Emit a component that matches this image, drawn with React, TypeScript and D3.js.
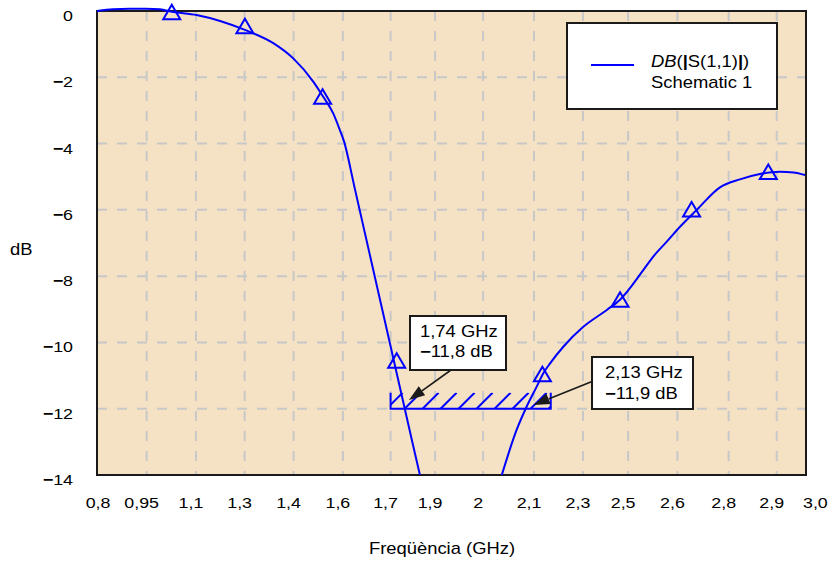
import React from 'react';
import * as d3 from 'd3';

// ---- data ----
const freqGHz = [
  0.8, 0.85, 0.899, 0.952, 0.995, 1.032, 1.109, 1.182, 1.259, 1.347, 1.409, 1.471, 1.502, 1.533, 1.552, 1.566, 1.6, 1.78, 1.802,
  1.93,
  2.056, 2.102, 2.133, 2.164, 2.185, 2.206, 2.247, 2.309, 2.382, 2.423, 2.495, 2.526, 2.568, 2.609, 2.661, 2.733, 2.795, 2.857, 2.919, 2.961, 2.997,
];
const s11dB: (number | null)[] = [
  0.0, 0.05, 0.07, 0.07, 0.05, -0.02, -0.12, -0.3, -0.57, -0.97, -1.43, -2.13, -2.59, -3.09, -3.55, -3.92, -5.36, -13.07, -14.0,
  null,
  -14.0, -12.64, -11.94, -11.34, -10.93, -10.63, -10.13, -9.53, -9.02, -8.71, -7.82, -7.41, -6.96, -6.51, -6.0, -5.32, -5.08, -4.92, -4.85, -4.87, -4.95,
];
const markerFreq = [1.032, 1.259, 1.5, 1.73, 2.182, 2.423, 2.645, 2.883];
const markerDb = [-0.04, -0.46, -2.59, -10.55, -10.96, -8.71, -5.99, -4.86];

const xTickValues = [0.8, 0.954, 1.107, 1.258, 1.41, 1.563, 1.711, 1.849, 1.998, 2.156, 2.308, 2.448, 2.601, 2.76, 2.909, 3.0];
const xTickLabels = ['0,8', '0,95', '1,1', '1,3', '1,4', '1,6', '1,7', '1,9', '2', '2,1', '2,3', '2,5', '2,6', '2,8', '2,9', '3,0'];
const yTickValues = [0, -2, -4, -6, -8, -10, -12, -14];

const goalFreq = [1.711, 2.208];
const goalDb = -12;

const annFreq = [1.74, 2.13];
const annDb = [-11.8, -11.9];
const annFreqText = ['1,74 GHz', '2,13 GHz'];
const annDbText = ['−11,8 dB', '−11,9 dB'];

const xTitle = 'Freqüència (GHz)';
const yTitle = 'dB';
const legendSub = 'Schematic 1';

// ---- layout ----
const W = 829;
const H = 564;
const PL = 97, PR = 806, PT = 11, PB = 475;
const SX = 1.15;
const FONT = "'Liberation Sans', Arial, Helvetica, sans-serif";
const BLUE = '#0000ff';
const BG = '#f5e1c4';
const GRID = '#c8c8c8';

// annotation box layout relative to arrow tip
const annLayout = [
  { tipDx: 9, tipDy: -2, bx: 410, by: 316, bw: 96, bh: 54, sx: 451, sy: 370, tx: 420, ty1: 336.5, ty2: 357 },
  { tipDx: 8, tipDy: -0.5, bx: 592, by: 357, bw: 101, bh: 52, sx: 592, sy: 381.5, tx: 605, ty1: 378.3, ty2: 399.3 },
];

function T(props: { x: number; y: number; anchor?: string; size?: number; children: any }) {
  const { x, y, anchor = 'start', size = 16, children } = props;
  return (
    <text
      transform={`translate(${x},${y}) scale(${SX},1)`}
      textAnchor={anchor}
      fontSize={size}
      fontFamily={FONT}
      fill="#000"
    >
      {children}
    </text>
  );
}

function signed(s: string) {
  if (s.startsWith('−')) {
    return [<tspan key="m" fontWeight="bold">−</tspan>, <tspan key="r">{s.slice(1)}</tspan>];
  }
  return s;
}

export default function App() {
  const x = d3.scaleLinear().domain([0.8, 3.0]).range([PL, PR]);
  const y = d3.scaleLinear().domain([0, -14]).range([PT, PB]);

  type P = { f: number; v: number | null };
  const pts: P[] = freqGHz.map((f, i) => ({ f, v: s11dB[i] }));
  const line = d3
    .line<P>()
    .defined((d) => d.v !== null)
    .x((d) => x(d.f))
    .y((d) => y(d.v as number))
    .curve(d3.curveMonotoneX);

  const gx0 = x(goalFreq[0]);
  const gx1 = x(goalFreq[1]);
  const gy = y(goalDb);
  const hatchH = 16;
  const hatchStarts = d3.range(gx0 - 4, gx1, 18);

  const yLabel = (v: number) => (v === 0 ? '0' : '−' + Math.abs(v));

  return (
    <div style={{ position: 'absolute', left: 0, top: 0 }}>
      <svg width={W} height={H} viewBox={`0 0 ${W} ${H}`} style={{ display: 'block', background: '#fff' }}>
        <defs>
          <clipPath id="plotClip">
            <rect x={PL} y={0} width={PR - PL} height={PB} />
          </clipPath>
          <clipPath id="hatchClip">
            <rect x={gx0} y={gy - hatchH} width={gx1 - gx0} height={hatchH} />
          </clipPath>
        </defs>

        <rect x={PL} y={PT} width={PR - PL} height={PB - PT} fill={BG} />

        {/* grid */}
        {xTickValues.slice(1, -1).map((t, i) => (
          <line key={'gx' + i} x1={x(t)} x2={x(t)} y1={PT} y2={PB} stroke={GRID} strokeWidth={2} strokeDasharray="10,10" />
        ))}
        {yTickValues.slice(1, -1).map((t, i) => (
          <line key={'gy' + i} x1={PL} x2={PR} y1={y(t)} y2={y(t)} stroke={GRID} strokeWidth={2} strokeDasharray="10,10" />
        ))}

        {/* border */}
        <rect x={PL} y={PT} width={PR - PL} height={PB - PT} fill="none" stroke="#1a1a1a" strokeWidth={2} />

        {/* goal mask */}
        <g clipPath="url(#hatchClip)">
          {hatchStarts.map((h, i) => (
            <line key={'h' + i} x1={h} y1={gy} x2={h + hatchH} y2={gy - hatchH} stroke={BLUE} strokeWidth={2} />
          ))}
        </g>
        <path
          d={`M${gx0},${gy - hatchH} L${gx0},${gy} L${gx1},${gy} L${gx1},${gy - hatchH}`}
          fill="none"
          stroke={BLUE}
          strokeWidth={2}
        />

        {/* curve */}
        <g clipPath="url(#plotClip)">
          <path d={line(pts) || ''} fill="none" stroke={BLUE} strokeWidth={2} strokeLinejoin="round" />
        </g>

        {/* markers */}
        {markerFreq.map((f, i) => {
          const cx = x(f);
          const cy = y(markerDb[i]);
          return (
            <path
              key={'m' + i}
              d={`M${cx},${cy - 7.5} L${cx + 8.5},${cy + 7} L${cx - 8.5},${cy + 7} Z`}
              fill="none"
              stroke={BLUE}
              strokeWidth={2}
              strokeLinejoin="miter"
            />
          );
        })}

        {/* y axis labels */}
        {yTickValues.map((t, i) => (
          <T key={'yl' + i} x={73} y={y(t) + 10} anchor="end" size={15.5}>
            {signed(yLabel(t))}
          </T>
        ))}

        {/* x axis labels */}
        {xTickValues.map((t, i) => {
          const last = i === xTickValues.length - 1;
          const first = i === 0;
          return (
            <T
              key={'xl' + i}
              x={last ? x(t) - 3 : first ? x(t) + 1 : x(t) - 5}
              y={508}
              anchor={last ? 'start' : 'middle'}
              size={15.5}
            >
              {xTickLabels[i]}
            </T>
          );
        })}

        <T x={442} y={554} anchor="middle" size={16}>{xTitle}</T>
        <T x={10} y={255} size={16}>{yTitle}</T>

        {/* legend */}
        <rect x={567} y={23} width={210} height={86} fill="#fff" stroke="#1a1a1a" strokeWidth={2} />
        <line x1={591} x2={634} y1={65} y2={65} stroke={BLUE} strokeWidth={2} />
        <T x={651} y={67} size={16}>
          <tspan fontStyle="italic">DB</tspan>
          <tspan>(</tspan>
          <tspan fontWeight="bold">|</tspan>
          <tspan>S(1,1)</tspan>
          <tspan fontWeight="bold">|</tspan>
          <tspan>)</tspan>
        </T>
        <T x={651} y={88} size={16}>{legendSub}</T>

        {/* annotations */}
        {annFreq.map((f, i) => {
          const L = annLayout[i];
          const tx = x(f) + L.tipDx;
          const ty = y(annDb[i]) + L.tipDy;
          const dx = tx - L.sx;
          const dy = ty - L.sy;
          const len = Math.hypot(dx, dy);
          const ux = dx / len, uy = dy / len;
          const nx = -uy, ny = ux;
          const headL = 16, headW = 5.5;
          const bx = tx - ux * headL, by = ty - uy * headL;
          return (
            <g key={'a' + i}>
              <rect x={L.bx} y={L.by} width={L.bw} height={L.bh} fill="#fff" stroke="#1a1a1a" strokeWidth={2} />
              <T x={L.tx} y={L.ty1} size={16}>{annFreqText[i]}</T>
              <T x={L.tx} y={L.ty2} size={16}>{signed(annDbText[i])}</T>
              <line x1={L.sx} y1={L.sy} x2={bx} y2={by} stroke="#1a1a1a" strokeWidth={1.6} />
              <path
                d={`M${tx},${ty} L${bx + nx * headW},${by + ny * headW} L${bx - nx * headW},${by - ny * headW} Z`}
                fill="#1a1a1a"
              />
            </g>
          );
        })}
      </svg>
    </div>
  );
}
